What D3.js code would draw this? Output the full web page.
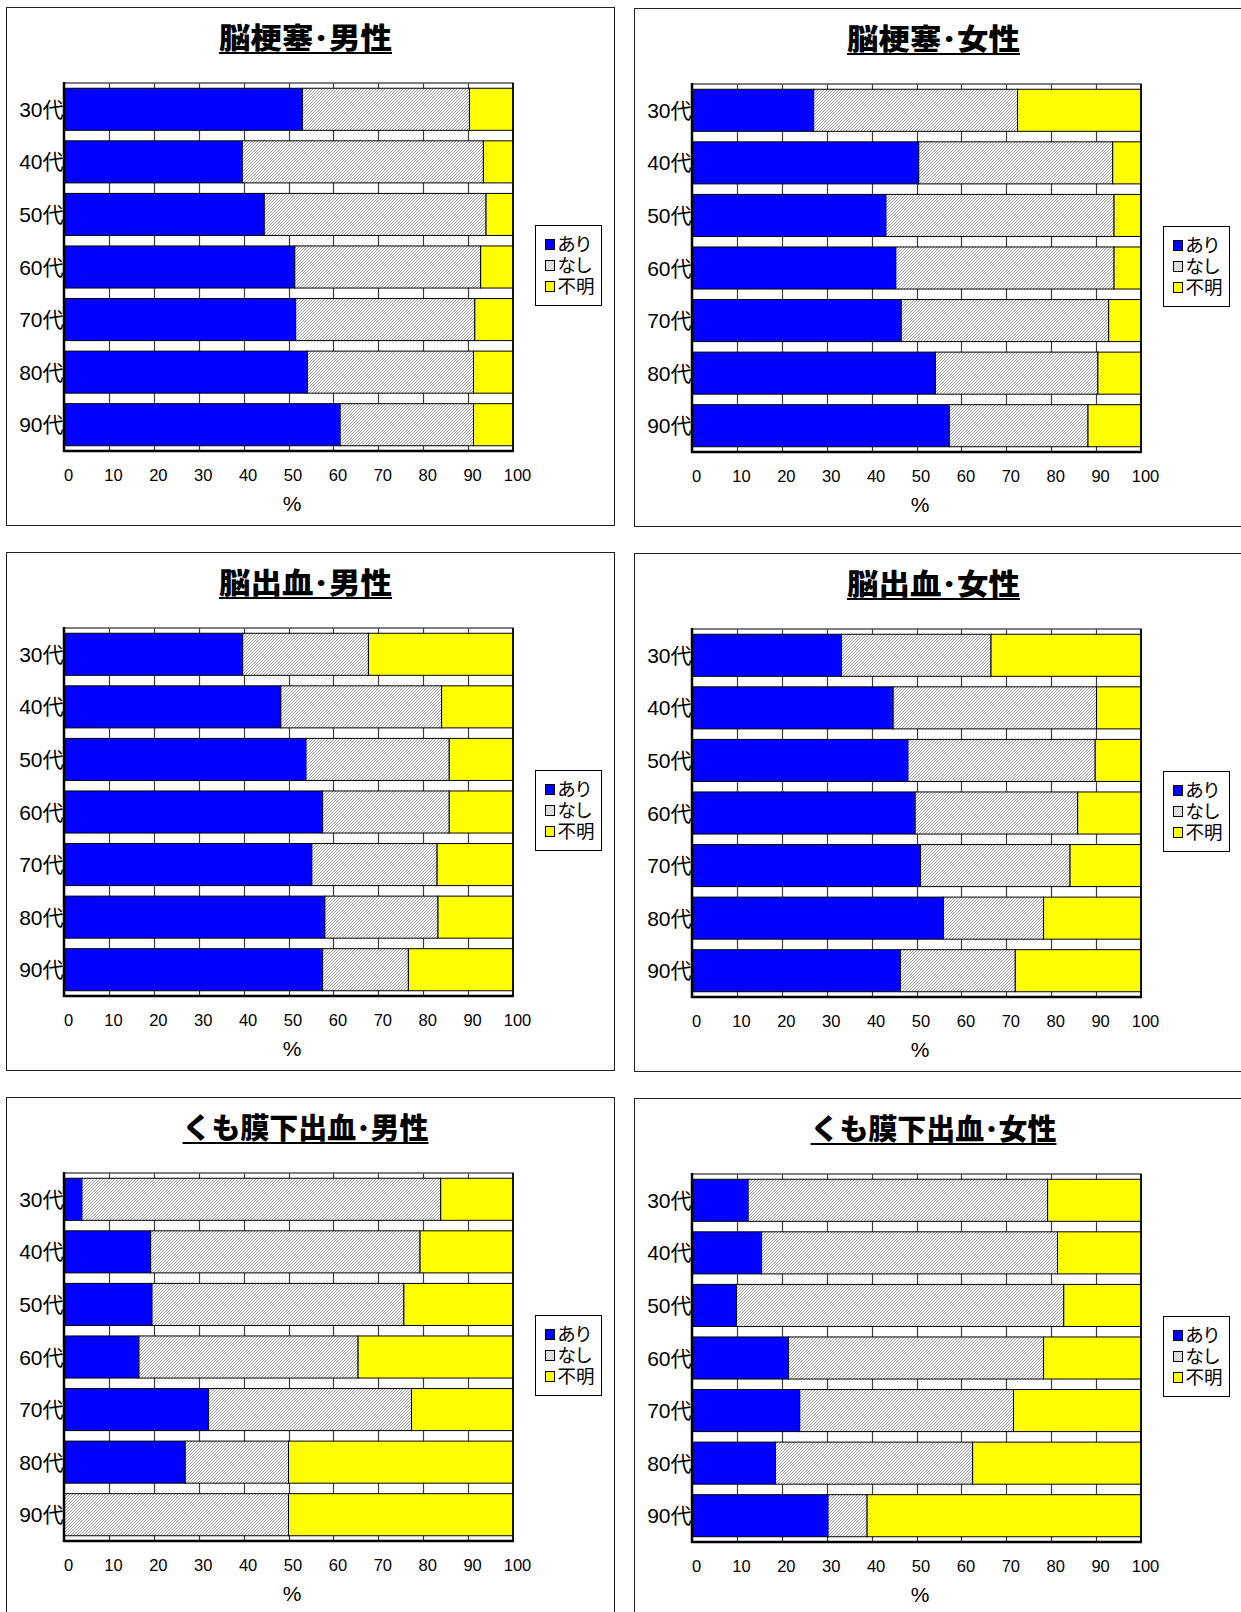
<!DOCTYPE html>
<html lang="ja">
<head>
<meta charset="utf-8">
<title>脳卒中の有無（年代別）</title>
<script src="https://cdn.jsdelivr.net/npm/d3@7"></script>
<style>
  html, body { margin: 0; padding: 0; background: #fff; }
  svg { display: block; }
  text { font-family: "Liberation Sans", "Noto Sans CJK JP", sans-serif; fill: #000; }
  .cjk { font-family: "Noto Sans CJK JP", sans-serif; }
</style>
</head>
<body>
<svg id="chart" width="1241" height="1612"></svg>
<script>
// ---- data -------------------------------------------------------------
const ageGroups   = ["30代", "40代", "50代", "60代", "70代", "80代", "90代"];
const seriesNames = ["あり", "なし", "不明"];
const seriesColors = ["#0000ff", "url(#hatch)", "#ffff00"];
const xTickValues = [0, 10, 20, 30, 40, 50, 60, 70, 80, 90, 100];
const xAxisLabel  = "%";

// each row: [あり, なし, 不明] (%) for one age group
const infarctMale = [
  [53.1, 37.2, 9.7], [39.7, 53.7, 6.6], [44.6, 49.4, 6.0], [51.4, 41.4, 7.2],
  [51.6, 39.9, 8.5], [54.2, 37.0, 8.8], [61.5, 29.7, 8.8]
];
const infarctFemale = [
  [27.1, 45.4, 27.5], [50.5, 43.2, 6.3], [43.2, 50.8, 6.0], [45.4, 48.6, 6.0],
  [46.6, 46.2, 7.2], [54.2, 36.2, 9.6], [57.3, 30.9, 11.8]
];
const hemorrhageMale = [
  [39.8, 28.0, 32.2], [48.3, 35.8, 15.9], [53.9, 31.9, 14.2], [57.6, 28.2, 14.2],
  [55.2, 27.9, 16.9], [58.1, 25.2, 16.7], [57.6, 19.1, 23.3]
];
const hemorrhageFemale = [
  [33.3, 33.3, 33.4], [44.8, 45.3, 9.9], [48.1, 41.7, 10.2], [49.7, 36.2, 14.1],
  [50.9, 33.3, 15.8], [56.0, 22.3, 21.7], [46.4, 25.6, 28.0]
];
const sahMale = [
  [4.0, 79.9, 16.1], [19.3, 60.0, 20.7], [19.6, 56.1, 24.3], [16.7, 48.8, 34.5],
  [32.2, 45.2, 22.6], [27.0, 23.0, 50.0], [0.0, 50.0, 50.0]
];
const sahFemale = [
  [12.5, 66.7, 20.8], [15.5, 65.9, 18.6], [9.9, 72.9, 17.2], [21.5, 56.8, 21.7],
  [24.0, 47.6, 28.4], [18.6, 43.9, 37.5], [30.3, 8.7, 61.0]
];

const panelTitles = [
  "脳梗塞･男性", "脳梗塞･女性",
  "脳出血･男性", "脳出血･女性",
  "くも膜下出血･男性", "くも膜下出血･女性"
];
const panelData = [infarctMale, infarctFemale, hemorrhageMale, hemorrhageFemale, sahMale, sahFemale];

// ---- layout -----------------------------------------------------------
const colX = [6, 634];
const rowY = [7, 552, 1097];
const panelW = 608, panelH = 518;
const plot = { left: 58, top: 76, width: 449, height: 368 };
const titleWidths = [173, 173, 173, 173, 246, 246];

const svg = d3.select("#chart");

// fine diagonal hatch used for the "なし" series
const defs = svg.append("defs");
const hatch = defs.append("pattern")
  .attr("id", "hatch")
  .attr("patternUnits", "userSpaceOnUse")
  .attr("width", 3).attr("height", 3);
hatch.append("rect").attr("width", 3).attr("height", 3).attr("fill", "#ffffff");
hatch.append("path")
  .attr("d", "M-1,1 l2,-2 M0,3 l3,-3 M2,4 l2,-2")
  .attr("stroke", "#8f8f8f").attr("stroke-width", 0.9);

const x = d3.scaleLinear().domain([0, 100]).range([0, plot.width]);
const y = d3.scaleBand().domain(ageGroups).range([0, plot.height])
  .paddingInner(0.2).paddingOuter(0.1);
const stack = d3.stack().keys([0, 1, 2]);

panelData.forEach((rows, i) => {
  const col = i % 2, row = Math.floor(i / 2);
  const g = svg.append("g")
    .attr("transform", `translate(${colX[col]},${rowY[row] + (col ? 1 : 0)})`);

  // panel frame
  g.append("rect")
    .attr("x", 0.5).attr("y", 0.5)
    .attr("width", panelW).attr("height", panelH)
    .attr("fill", "#fff").attr("stroke", "#222").attr("stroke-width", 1);

  // title with underline
  const cx = 299.5;
  const tw = titleWidths[i];
  g.append("text")
    .attr("class", "cjk")
    .attr("x", cx).attr("y", 42)
    .attr("text-anchor", "middle")
    .attr("font-size", 29)
    .attr("font-weight", 900)
    .attr("textLength", tw)
    .attr("lengthAdjust", "spacingAndGlyphs")
    .text(panelTitles[i]);
  g.append("line")
    .attr("x1", cx - tw / 2).attr("x2", cx + tw / 2)
    .attr("y1", 46).attr("y2", 46)
    .attr("stroke", "#000").attr("stroke-width", 2);

  // plot area
  const p = g.append("g").attr("transform", `translate(${plot.left},${plot.top})`);
  p.append("rect")
    .attr("width", plot.width).attr("height", plot.height)
    .attr("fill", "#fff");

  // vertical gridlines
  p.selectAll("line.grid")
    .data(xTickValues.filter(v => v > 0 && v < 100))
    .join("line")
    .attr("class", "grid")
    .attr("x1", d => Math.round(x(d)) + 0.5).attr("x2", d => Math.round(x(d)) + 0.5)
    .attr("y1", 0).attr("y2", plot.height)
    .attr("stroke", "#3c3c3c").attr("stroke-width", 1.2);

  // stacked bars
  const layers = stack(rows);
  p.selectAll("g.series")
    .data(layers)
    .join("g")
    .attr("class", "series")
    .attr("fill", (d, k) => seriesColors[k])
    .selectAll("rect")
    .data((d) => d.map((seg, j) => ({ seg, age: ageGroups[j] })))
    .join("rect")
    .attr("x", d => x(d.seg[0]))
    .attr("y", d => y(d.age))
    .attr("width", d => x(d.seg[1]) - x(d.seg[0]))
    .attr("height", y.bandwidth())
    .attr("stroke", "#000").attr("stroke-width", 1);

  // plot frame and axis lines
  p.append("rect")
    .attr("width", plot.width).attr("height", plot.height)
    .attr("fill", "none").attr("stroke", "#555").attr("stroke-width", 1.5);
  p.append("line")
    .attr("x1", plot.width).attr("x2", plot.width)
    .attr("y1", 0).attr("y2", plot.height)
    .attr("stroke", "#111").attr("stroke-width", 2);
  p.append("line")
    .attr("x1", 0).attr("x2", 0).attr("y1", -1).attr("y2", plot.height + 1)
    .attr("stroke", "#000").attr("stroke-width", 2.5);
  p.append("line")
    .attr("x1", -1).attr("x2", plot.width + 1)
    .attr("y1", plot.height).attr("y2", plot.height)
    .attr("stroke", "#000").attr("stroke-width", 2.5);

  // y axis labels
  const yAxis = p.append("g")
    .call(d3.axisLeft(y).tickSize(0).tickPadding(0.5));
  yAxis.select(".domain").remove();
  yAxis.selectAll("text")
    .attr("font-size", 21)
    .attr("font-family", null)
    .attr("dy", "0.36em");

  // x axis labels
  const xAxis = p.append("g")
    .attr("transform", `translate(0,${plot.height})`)
    .call(d3.axisBottom(x).tickValues(xTickValues).tickSize(0).tickPadding(18));
  xAxis.select(".domain").remove();
  xAxis.selectAll("text")
    .attr("font-size", 16.5)
    .attr("font-family", null)
    .attr("dx", 4);

  g.append("text")
    .attr("x", 286).attr("y", 504)
    .attr("text-anchor", "middle")
    .attr("font-size", 21)
    .text(xAxisLabel);

  // legend
  const lg = g.append("g").attr("transform", "translate(529.5,218.5)");
  const clipId = `legend-clip-${i}`;
  defs.append("clipPath").attr("id", clipId)
    .append("rect").attr("width", 66).attr("height", 80);
  lg.append("rect")
    .attr("width", 66).attr("height", 80)
    .attr("fill", "#fff").attr("stroke", "#000").attr("stroke-width", 1);
  const items = lg.append("g").attr("clip-path", `url(#${clipId})`)
    .selectAll("g.item")
    .data(seriesNames)
    .join("g")
    .attr("class", "item")
    .attr("transform", (d, k) => `translate(10,${19 + k * 21})`);
  items.append("rect")
    .attr("x", 0).attr("y", -5)
    .attr("width", 9).attr("height", 10)
    .attr("fill", (d, k) => seriesColors[k])
    .attr("stroke", "#000").attr("stroke-width", 1);
  items.append("text")
    .attr("x", 12).attr("y", 6.5)
    .attr("font-size", 18.5)
    .style("font-feature-settings", "'palt'")
    .text(d => d);
});
</script>
</body>
</html>
